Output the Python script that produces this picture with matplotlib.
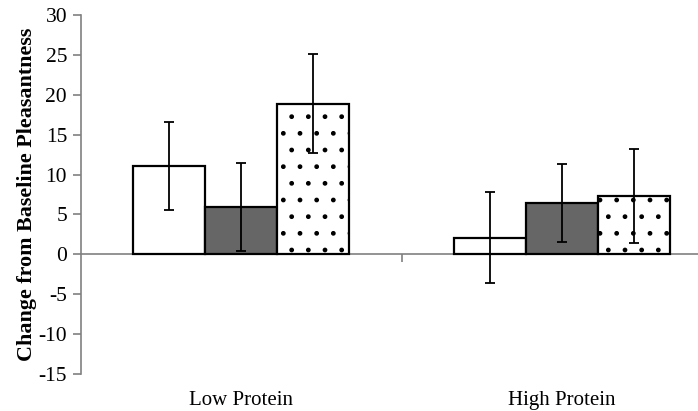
import matplotlib.pyplot as plt
from matplotlib.transforms import blended_transform_factory
import numpy as np

plt.rcParams['font.family'] = ['Liberation Serif', 'DejaVu Serif']
plt.rcParams['axes.unicode_minus'] = False
plt.rcParams['hatch.linewidth'] = 1.0

# data
groups = ['Low Protein', 'High Protein']
white_vals = [11.1, 2.1]
white_err = [5.55, 5.7]
gray_vals = [5.95, 6.45]
gray_err = [5.5, 4.9]
dot_vals = [18.9, 7.3]
dot_err = [6.2, 5.9]

fig = plt.figure(figsize=(6.98, 4.11), dpi=100)
ax = fig.add_axes([81 / 698, 37 / 411, 617 / 698, 359 / 411])

x = np.arange(len(groups))
w = 0.225
axis_gray = '#808080'
err_kw = dict(ecolor='black', elinewidth=1.3, capsize=3.6, capthick=1.3)

ax.bar(x - w, white_vals, w, yerr=white_err, color='white',
       edgecolor='black', linewidth=1.6, error_kw=err_kw, zorder=2)
ax.bar(x, gray_vals, w, yerr=gray_err, color='#666666',
       edgecolor='black', linewidth=1.6, error_kw=err_kw, zorder=2)
ax.bar(x + w, dot_vals, w, yerr=dot_err, color='white', hatch='.',
       edgecolor='black', linewidth=1.6, error_kw=err_kw, zorder=2)

ax.set_xlim(-0.5, 1.425)
ax.set_ylim(-15, 30)
ax.set_yticks(np.arange(-15, 31, 5))
ax.tick_params(axis='y', direction='out', length=6, width=1.2,
               color=axis_gray, labelsize=15.5, pad=4)

# x axis sits at zero, one tick between the groups
ax.spines['bottom'].set_position(('data', 0))
ax.spines['bottom'].set_color(axis_gray)
ax.spines['bottom'].set_linewidth(1.2)
ax.spines['bottom'].set_zorder(1)
ax.spines['left'].set_color(axis_gray)
ax.spines['left'].set_linewidth(1.2)
ax.spines['top'].set_visible(False)
ax.spines['right'].set_visible(False)
ax.set_xticks([0.5])
ax.set_xticklabels([''])
ax.tick_params(axis='x', direction='out', length=6, width=1.2, color=axis_gray)

# category names below the plot
trans = blended_transform_factory(ax.transData, ax.transAxes)
for i, name in enumerate(groups):
    ax.text(i, -0.075, name, transform=trans, ha='center', va='center',
            fontsize=15)

ax.set_ylabel('Change from Baseline Pleasantness', fontsize=15.8,
              fontweight='bold', labelpad=1)

fig.savefig('out.png', dpi=100)
